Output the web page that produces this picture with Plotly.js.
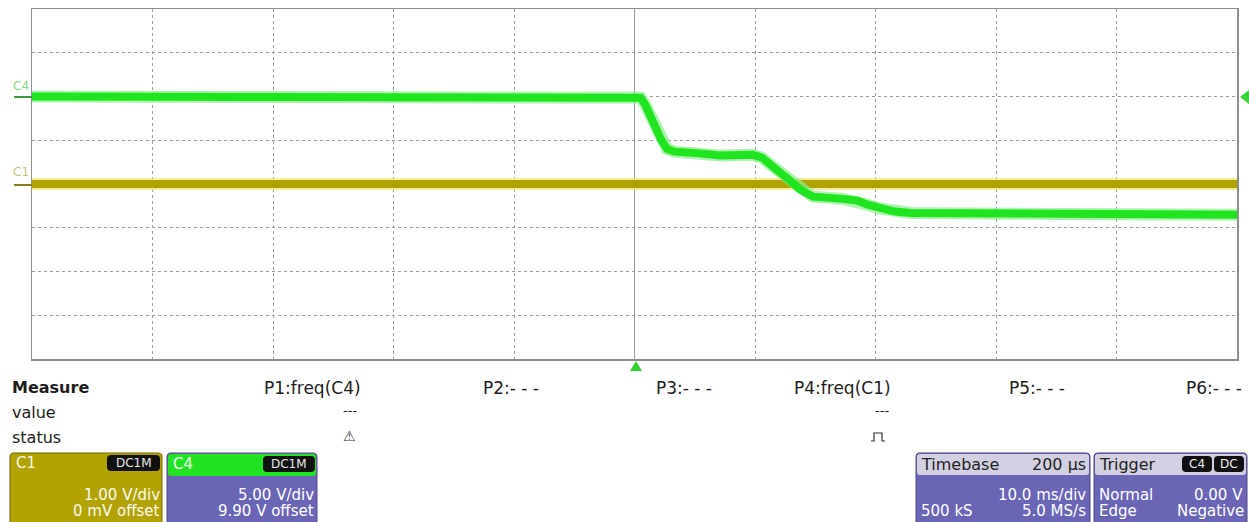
<!DOCTYPE html>
<html>
<head>
<meta charset="utf-8">
<script src="https://cdn.plot.ly/plotly-3.0.1.min.js"></script>
<style>
  html, body { margin: 0; padding: 0; background: #ffffff; }
  #chart { width: 1249px; height: 522px; }
</style>
</head>
<body>
<div id="chart"></div>
<script>
// ---- Data (read from the scope screen) ----
// time in ms (10 ms/div, trigger at 0)
const c4Time = [-50, 0, 0.5, 0.9, 1.5, 2.2, 2.7, 3.3, 5.4, 7.1, 9.8, 10.6, 11.2, 12.1, 12.9, 13.7, 14.8, 17.3, 18.5, 19.3, 20.4, 21.6, 22.9, 30.3, 50];
// C4 volts (5.00 V/div, 9.90 V offset)
const c4Volts = [0.1, 0.1, -0.05, -0.85, -2.8, -4.8, -5.9, -6.2, -6.4, -6.65, -6.55, -6.9, -7.6, -8.5, -9.5, -10.5, -11.35, -11.6, -11.8, -12.25, -12.7, -13.05, -13.2, -13.3, -13.4];
// C1 volts (1.00 V/div, 0 mV offset)
const c1Time = [-50, 50];
const c1Volts = [0, 0];

const c1Scale = 1.0, c1Offset = 0.0;
const c4Scale = 5.0, c4Offset = 9.9;
const divsX = 10, divsY = 8, msPerDiv = 10;

const measureLabels = ["P1:freq(C4)", "P2:- - -", "P3:- - -", "P4:freq(C1)", "P5:- - -", "P6:- - -"];
const rowLabels = ["Measure", "value", "status"];

// ---- geometry helpers (paper coords from screen pixels) ----
const L = 32, R = 1237, T = 9, B = 359;
const X = px => (px - L) / (R - L);
const Y = py => (B - py) / (B - T);
function rr(x0, y0, x1, y1, r) {
  const p = (x, y) => X(x).toFixed(5) + ',' + Y(y).toFixed(5);
  return `M${p(x0 + r, y0)} L${p(x1 - r, y0)} Q${p(x1, y0)} ${p(x1, y0 + r)} L${p(x1, y1 - r)} Q${p(x1, y1)} ${p(x1 - r, y1)} L${p(x0 + r, y1)} Q${p(x0, y1)} ${p(x0, y1 - r)} L${p(x0, y0 + r)} Q${p(x0, y0)} ${p(x0 + r, y0)} Z`;
}
const shapes = [];
function box(x0, y0, x1, y1, r, fill, lineColor, lw) {
  shapes.push({type: 'path', xref: 'paper', yref: 'paper', path: rr(x0, y0, x1, y1, r),
    fillcolor: fill, line: {color: lineColor || fill, width: lw === undefined ? 1 : lw}, layer: 'above'});
}
function poly(pts, fill, lineColor, lw) {
  const d = pts.map((q, i) => (i ? 'L' : 'M') + X(q[0]).toFixed(5) + ',' + Y(q[1]).toFixed(5)).join(' ') + ' Z';
  shapes.push({type: 'path', xref: 'paper', yref: 'paper', path: d, fillcolor: fill,
    line: {color: lineColor || fill, width: lw || 0}, layer: 'above'});
}
function seg(pts, color, lw, dash) {
  const d = pts.map((q, i) => (i ? 'L' : 'M') + X(q[0]).toFixed(5) + ',' + Y(q[1]).toFixed(5)).join(' ');
  shapes.push({type: 'path', xref: 'paper', yref: 'paper', path: d,
    line: {color: color, width: lw, dash: dash || 'solid'}, layer: 'above'});
}
const annotations = [];
const FONT = 'DejaVu Sans, Liberation Sans, Arial, sans-serif';
function txt(text, px, py, anchor, size, color, bold) {
  annotations.push({xref: 'paper', yref: 'paper', x: X(px), y: Y(py), text: bold ? '<b>' + text + '</b>' : text,
    showarrow: false, xanchor: anchor, yanchor: 'middle', borderpad: 0,
    font: {family: FONT, size: size, color: color}});
}

// ---- traces ----
const traces = [
  {x: c4Time, y: c4Volts, yaxis: 'y2', mode: 'lines', line: {color: 'rgba(140,240,140,0.7)', width: 12}, hoverinfo: 'skip', showlegend: false},
  {x: c4Time, y: c4Volts, yaxis: 'y2', mode: 'lines', name: 'C4', line: {color: '#1fe41f', width: 8}, showlegend: false},
  {x: c1Time, y: c1Volts, yaxis: 'y', mode: 'lines', line: {color: 'rgba(240,232,120,0.75)', width: 12}, hoverinfo: 'skip', showlegend: false},
  {x: c1Time, y: c1Volts, yaxis: 'y', mode: 'lines', name: 'C1', line: {color: '#b0a000', width: 8}, showlegend: false}
];

// ---- channel marker labels on the left / right ----
txt('C4', 21, 86, 'center', 12, '#86d986');
seg([[14, 97], [32, 97]], '#3b9b3b', 2);
txt('C1', 21, 172, 'center', 12, '#c9c27a');
seg([[14, 185], [32, 185]], '#8a7f10', 2);
poly([[1249, 90], [1240, 97], [1249, 104]], '#34d634');
// trigger position marker
poly([[630, 371], [636, 361], [642, 371]], '#2fd02f');

// ---- measurement table ----
const dark = '#1c1c1c';
txt(rowLabels[0], 11, 388, 'left', 16, dark, true);
txt(rowLabels[1], 11, 412, 'left', 16, dark);
txt(rowLabels[2], 11, 437, 'left', 16, dark);
const pRight = [362, 540, 713, 892, 1066, 1243];
measureLabels.forEach((m, i) => txt(m, pRight[i], 388, 'right', 17, dark));
txt('---', 350, 410, 'center', 13, dark);
txt('⚠', 349, 436, 'center', 14, '#333');
txt('---', 882, 410, 'center', 13, dark);
seg([[871, 441], [874, 441], [874, 433], [882, 433], [882, 441], [885, 441]], '#333', 1.2);

// ---- channel boxes ----
const olive = '#b3a300', purple = '#6b65b5', green = '#22e222', header = '#d3d0e3';
const r1 = 495, r2 = 511, fs = 15;
box(10, 453, 162, 528, 4, olive, '#6f6500', 1);
box(107, 455, 160, 471, 4, '#111111', '#111111', 0);
txt('C1', 15, 463, 'left', 15, '#f5f5ea');
txt('DC1M', 133.5, 463, 'center', 12, '#e8e8e8');
txt('1.00 V/div', 161, r1, 'right', fs, '#fbfbf2');
txt('0 mV offset', 161, r2, 'right', fs, '#fbfbf2');

box(167, 453, 317, 528, 4, purple, '#4e4a80', 1);
box(168, 454, 316, 476, 3, green, green, 0);
box(263, 456, 315, 472, 4, '#111111', '#111111', 0);
txt('C4', 172, 464, 'left', 15, '#f2fff2');
txt('DC1M', 289, 464, 'center', 12, '#e8e8e8');
txt('5.00 V/div', 315, r1, 'right', fs, '#ffffff');
txt('9.90 V offset', 315, r2, 'right', fs, '#ffffff');

box(916, 453, 1090, 528, 4, purple, '#4e4a80', 1);
box(917, 454, 1089, 475, 3, header, header, 0);
txt('Timebase', 920, 464, 'left', 16, '#222222');
txt('200 µs', 1087, 464, 'right', 16, '#222222');
txt('10.0 ms/div', 1087, r1, 'right', fs, '#ffffff');
txt('500 kS', 920, r2, 'left', fs, '#ffffff');
txt('5.0 MS/s', 1087, r2, 'right', fs, '#ffffff');

box(1094, 453, 1247, 528, 4, purple, '#4e4a80', 1);
box(1095, 454, 1246, 475, 3, header, header, 0);
box(1182, 456, 1212, 472, 4, '#111111', '#111111', 0);
box(1214, 456, 1244, 472, 4, '#111111', '#111111', 0);
txt('Trigger', 1098, 464, 'left', 16, '#222222');
txt('C4', 1197, 464, 'center', 12, '#eeeeee');
txt('DC', 1229, 464, 'center', 12, '#eeeeee');
txt('Normal', 1098, r1, 'left', fs, '#ffffff');
txt('0.00 V', 1244, r1, 'right', fs, '#ffffff');
txt('Edge', 1098, r2, 'left', fs, '#ffffff');
txt('Negative', 1245, r2, 'right', fs, '#ffffff');

// ---- layout ----
const halfX = divsX / 2 * msPerDiv;
const layout = {
  width: 1249, height: 522,
  margin: {l: L, r: 1249 - R, t: T, b: 522 - B, pad: 0},
  paper_bgcolor: '#ffffff', plot_bgcolor: '#ffffff',
  showlegend: false,
  xaxis: {range: [-halfX, halfX], tick0: 0, dtick: msPerDiv, showgrid: true, gridcolor: '#9c9c9c', griddash: 'dot', gridwidth: 1,
    zeroline: true, zerolinecolor: '#9a9a9a', zerolinewidth: 1.5,
    showline: true, mirror: true, linecolor: '#8e8e8e', linewidth: 1.5,
    showticklabels: false, ticks: '', fixedrange: true},
  yaxis: {range: [-divsY / 2 * c1Scale - c1Offset, divsY / 2 * c1Scale - c1Offset], tick0: 0, dtick: c1Scale,
    showgrid: true, gridcolor: '#9c9c9c', griddash: 'dot', gridwidth: 1, zeroline: false,
    showline: true, mirror: true, linecolor: '#8e8e8e', linewidth: 1.5,
    showticklabels: false, ticks: '', fixedrange: true},
  yaxis2: {range: [-divsY / 2 * c4Scale - c4Offset, divsY / 2 * c4Scale - c4Offset], overlaying: 'y', side: 'right',
    showgrid: false, zeroline: false, showline: false, showticklabels: false, ticks: '', fixedrange: true},
  shapes: shapes,
  annotations: annotations
};

Plotly.newPlot('chart', traces, layout, {staticPlot: true, displayModeBar: false});
</script>
</body>
</html>
